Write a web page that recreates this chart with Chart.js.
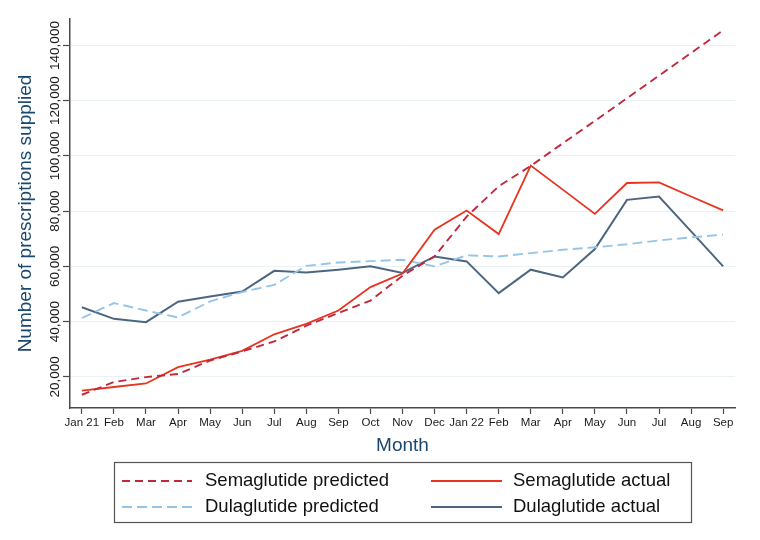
<!DOCTYPE html>
<html>
<head>
<meta charset="utf-8">
<script src="https://cdn.jsdelivr.net/npm/chart.js@4.4.1/dist/chart.umd.min.js"></script>
<style>
  html, body { margin: 0; padding: 0; background: #fff; }
  #wrap { width: 760px; height: 540px; }
</style>
</head>
<body>
<div id="wrap"><canvas id="chart" width="760" height="540"></canvas></div>
<script>
// Prescriptions supplied per month, Jan 2021 - Sep 2022
const months = ['Jan 21', 'Feb', 'Mar', 'Apr', 'May', 'Jun', 'Jul', 'Aug', 'Sep', 'Oct', 'Nov',
    'Dec', 'Jan 22', 'Feb', 'Mar', 'Apr', 'May', 'Jun', 'Jul', 'Aug', 'Sep'];

const semaPredicted = [13500, 18100, 19900, 21000, 25900, 29200, 32800, 38500, 43100, 47600, 56600,
    63600, 78000, 89000, 96400, 104600, 112700, 120900, 129100, 137300, 145500];
const semaActual = [15000, 16300, 17600, 23500, 26200, 29400, 35400, 39200, 44000, 52500, 57400,
    73300, 80200, 71700, 96500, 87800, 79000, 90200, 90400, 85300, 80300];
const dulaPredicted = [41300, 46700, 44000, 41500, 47300, 50700, 53300, 60200, 61400, 61900, 62400,
    60000, 64000, 63600, 64800, 66000, 66900, 68000, 69400, 70500, 71500];
const dulaActual = [45200, 41000, 39800, 47200, 49100, 50900, 58400, 57800, 58800, 60000, 57600,
    63600, 61800, 50300, 58800, 56000, 66300, 84100, 85300, 72700, 60000];

const yTicks = [20000, 40000, 60000, 80000, 100000, 120000, 140000];

const FONT = "'Liberation Sans', Arial, Helvetica, sans-serif";
const NAVY = '#1a476f';
const AXIS = '#4a4a4a';

const fmt = v => v.toLocaleString('en-US');

function toPoints(arr) {
    return arr.map((v, i) => ({ x: i, y: v }));
}

// y tick labels are vertical in the original
const rotatedYLabels = {
    id: 'rotatedYLabels',
    afterDraw(chart) {
        const ctx = chart.ctx;
        const y = chart.scales.y;
        ctx.save();
        ctx.font = '13.5px ' + FONT;
        ctx.fillStyle = '#1a1a1a';
        ctx.textAlign = 'center';
        ctx.textBaseline = 'middle';
        y.ticks.forEach(t => {
            const py = y.getPixelForValue(t.value);
            ctx.save();
            ctx.translate(55, py);
            ctx.rotate(-Math.PI / 2);
            ctx.fillText(fmt(t.value), 0, 0);
            ctx.restore();
        });
        ctx.restore();
    }
};

// boxed legend, 2 columns
const boxLegend = {
    id: 'boxLegend',
    afterDraw(chart) {
        const ctx = chart.ctx;
        ctx.save();
        ctx.strokeStyle = '#555';
        ctx.lineWidth = 1.2;
        ctx.strokeRect(114.5, 462.5, 577, 60);

        const cols = [{ x0: 122, x1: 192, tx: 205 }, { x0: 431, x1: 502, tx: 513 }];
        const rows = [481, 507];
        ctx.font = '18.5px ' + FONT;
        ctx.textBaseline = 'middle';
        ctx.fillStyle = '#111';
        chart.data.datasets.forEach((ds, i) => {
            const c = cols[i % 2];
            const ry = rows[Math.floor(i / 2)];
            ctx.beginPath();
            ctx.strokeStyle = ds.borderColor;
            ctx.lineWidth = ds.borderWidth;
            ctx.setLineDash(ds.borderDash || []);
            ctx.moveTo(c.x0, ry);
            ctx.lineTo(c.x1, ry);
            ctx.stroke();
            ctx.setLineDash([]);
            ctx.fillText(ds.label, c.tx, ry);
        });
        ctx.restore();
    }
};

new Chart(document.getElementById('chart'), {
    type: 'line',
    data: {
        datasets: [
            {
                label: 'Semaglutide predicted',
                data: toPoints(semaPredicted),
                borderColor: '#c0283c',
                borderWidth: 1.9,
                borderDash: [8, 5]
            },
            {
                label: 'Semaglutide actual',
                data: toPoints(semaActual),
                borderColor: '#e8331e',
                borderWidth: 1.8
            },
            {
                label: 'Dulaglutide predicted',
                data: toPoints(dulaPredicted),
                borderColor: '#94c5e9',
                borderWidth: 1.9,
                borderDash: [10, 5]
            },
            {
                label: 'Dulaglutide actual',
                data: toPoints(dulaActual),
                borderColor: '#4d6680',
                borderWidth: 2
            }
        ]
    },
    options: {
        responsive: false,
        animation: false,
        devicePixelRatio: 1,
        layout: { padding: { top: 19, right: 25, bottom: 82, left: 0 } },
        elements: {
            point: { radius: 0 },
            line: { tension: 0, fill: false }
        },
        plugins: {
            legend: { display: false },
            tooltip: { enabled: false }
        },
        scales: {
            x: {
                type: 'linear',
                min: -0.37,
                max: 20.37,
                afterBuildTicks: s => { s.ticks = months.map((m, i) => ({ value: i })); },
                afterFit: s => { s.height = 50; },
                ticks: {
                    autoSkip: false,
                    maxRotation: 0,
                    padding: 2,
                    color: '#1a1a1a',
                    font: { family: FONT, size: 11.5 },
                    callback: v => months[v]
                },
                grid: {
                    drawOnChartArea: false,
                    drawTicks: true,
                    tickLength: 6,
                    tickColor: AXIS,
                    tickWidth: 1.2
                },
                border: { color: AXIS, width: 1.5 },
                title: {
                    display: true,
                    text: 'Month',
                    color: NAVY,
                    font: { family: FONT, size: 19 },
                    padding: { top: 0, bottom: 1 }
                }
            },
            y: {
                min: 8700,
                max: 149600,
                afterBuildTicks: s => { s.ticks = yTicks.map(v => ({ value: v })); },
                afterFit: s => { s.width = 70; },
                ticks: { display: false },
                grid: {
                    color: '#e9f1f5',
                    lineWidth: 1,
                    drawTicks: true,
                    tickLength: 7,
                    tickColor: AXIS,
                    tickWidth: 1.2
                },
                border: { color: AXIS, width: 1.5 },
                title: {
                    display: true,
                    text: 'Number of prescriptions supplied',
                    color: NAVY,
                    font: { family: FONT, size: 19 },
                    padding: { top: 14, bottom: 0 }
                }
            }
        }
    },
    plugins: [rotatedYLabels, boxLegend]
});
</script>
</body>
</html>
